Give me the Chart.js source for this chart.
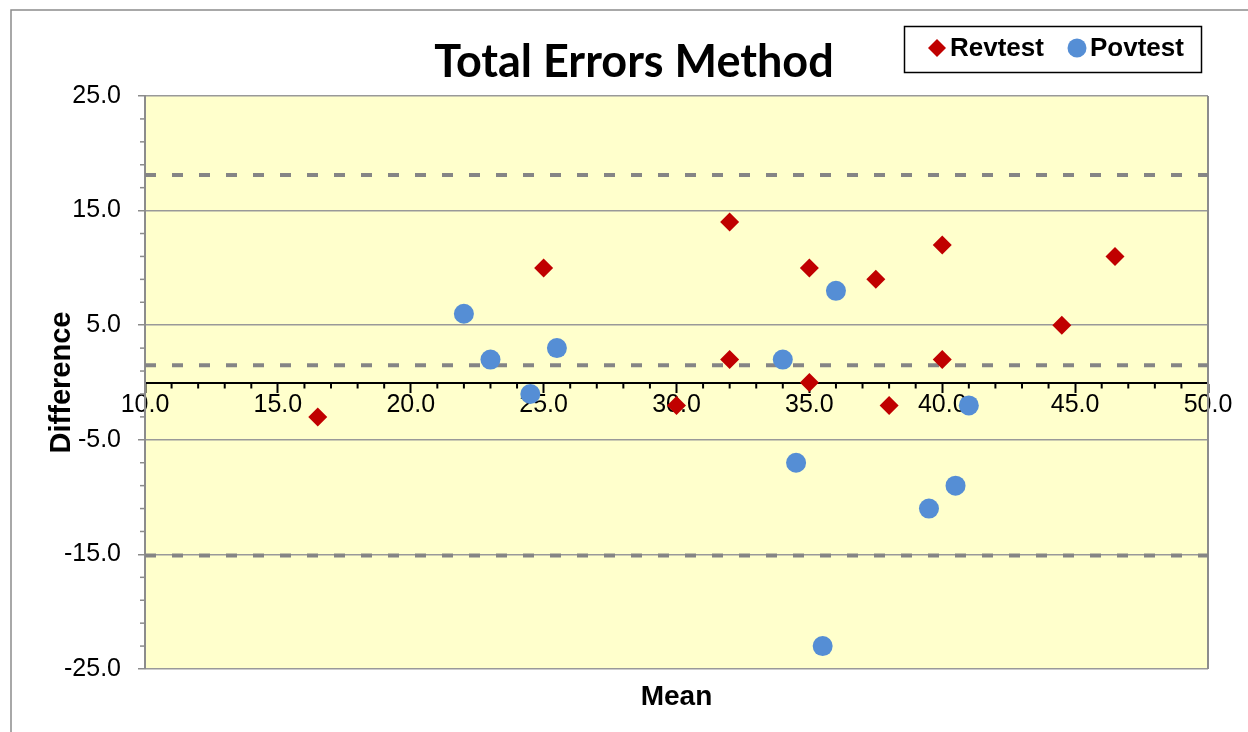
<!DOCTYPE html>
<html>
<head>
<meta charset="utf-8">
<title>Total Errors Method</title>
<script src="https://cdn.jsdelivr.net/npm/chart.js@4.4.0/dist/chart.umd.min.js"></script>
<style>
  html, body { margin: 0; padding: 0; background: #fff; }
</style>
</head>
<body>
<canvas id="my-chart" width="1248" height="732"></canvas>
<script>
'use strict';
// values
let revMean = [16.5, 25, 30, 32, 32, 35, 35, 37.5, 38, 40, 40, 44.5, 46.5]
let revDiff = [-3, 10, -2, 14, 2, 10, 0, 9, -2, 12, 2, 5, 11]
let povMean = [22, 23, 24.5, 25.5, 34, 34.5, 35.5, 36, 39.5, 40.5, 41]
let povDiff = [6, 2, -1, 3, 2, -7, -23, 8, -11, -9, -2]
// mean difference and the two limits (dashed lines)
let limitLines = [18.1, 1.5, -15.1]
// axis ticks: min, max, step
let xTickRange = [10, 50, 5]
let yTickRange = [-25, 25, 10]

let fontArial = "'Liberation Sans', Arial, sans-serif"

function toPoints(xs, ys) {
  let pts = []
  for (let i = 0; i < xs.length; i++) {
    pts.push({ x: xs[i], y: ys[i] })
  }
  return pts
}

// dashed lines go across the whole x range
let limitDatasets = limitLines.map(function (v) {
  return {
    label: 'limit',
    data: [{ x: xTickRange[0], y: v }, { x: xTickRange[1], y: v }],
    showLine: true,
    borderColor: '#858585',
    borderWidth: 4,
    borderDash: [11, 16],
    pointRadius: 0,
    order: 2
  }
})

// background, frame, minor ticks, legend box
const plotDecor = {
  id: 'plotDecor',
  beforeDraw(chart) {
    const ctx = chart.ctx
    const a = chart.chartArea
    ctx.save()
    ctx.strokeStyle = '#8c8c8c'
    ctx.lineWidth = 1.5
    ctx.strokeRect(11, 10, 1400, 900)
    ctx.fillStyle = '#FFFFCC'
    ctx.fillRect(a.left, a.top, a.right - a.left, a.bottom - a.top)
    ctx.restore()
  },
  beforeDatasetsDraw(chart) {
    const ctx = chart.ctx
    const a = chart.chartArea
    const xs = chart.scales.x
    const ys = chart.scales.y
    ctx.save()
    ctx.strokeStyle = '#8c8c8c'
    ctx.lineWidth = 2
    ctx.beginPath()
    ctx.moveTo(a.right, a.top)
    ctx.lineTo(a.right, a.bottom)
    ctx.stroke()
    // minor ticks on y, every 2
    ctx.lineWidth = 1.5
    for (let v = yTickRange[0]; v <= yTickRange[1]; v += 2) {
      if ((v - yTickRange[0]) % yTickRange[2] === 0) continue
      let py = ys.getPixelForValue(v)
      ctx.beginPath()
      ctx.moveTo(a.left - 5, py)
      ctx.lineTo(a.left, py)
      ctx.stroke()
    }
    // minor ticks on the zero line, every 1
    let py0 = ys.getPixelForValue(0)
    ctx.strokeStyle = '#000'
    ctx.lineWidth = 2
    for (let v = xTickRange[0]; v <= xTickRange[1]; v++) {
      if ((v - xTickRange[0]) % xTickRange[2] === 0) continue
      let px = xs.getPixelForValue(v)
      ctx.beginPath()
      ctx.moveTo(px, py0)
      ctx.lineTo(px, py0 + 6)
      ctx.stroke()
    }
    ctx.restore()
  },
  afterDraw(chart) {
    const ctx = chart.ctx
    ctx.save()
    ctx.fillStyle = '#fff'
    ctx.fillRect(904, 26, 297, 46)
    ctx.strokeStyle = '#000'
    ctx.lineWidth = 1.5
    ctx.strokeRect(904.5, 26.5, 297, 46)
    // diamond
    ctx.fillStyle = '#C00000'
    ctx.beginPath()
    ctx.moveTo(937, 39)
    ctx.lineTo(946, 48)
    ctx.lineTo(937, 57)
    ctx.lineTo(928, 48)
    ctx.closePath()
    ctx.fill()
    // circle
    ctx.fillStyle = '#558ED5'
    ctx.beginPath()
    ctx.arc(1077, 48, 9.5, 0, Math.PI * 2)
    ctx.fill()
    ctx.fillStyle = '#000'
    ctx.font = 'bold 26px ' + fontArial
    ctx.textBaseline = 'middle'
    ctx.fillText('Revtest', 950, 49)
    ctx.fillText('Povtest', 1090, 49)
    ctx.restore()
  }
}

const ctx = document.getElementById('my-chart').getContext('2d')
const myChart = new Chart(ctx, {
  type: 'scatter',
  data: {
    datasets: [
      {
        label: 'Revtest',
        data: toPoints(revMean, revDiff),
        pointStyle: 'rectRot',
        pointRadius: 9.5,
        pointBackgroundColor: '#C00000',
        pointBorderWidth: 0,
        order: 0
      },
      {
        label: 'Povtest',
        data: toPoints(povMean, povDiff),
        pointStyle: 'circle',
        pointRadius: 10,
        pointBackgroundColor: '#558ED5',
        pointBorderWidth: 0,
        order: 1
      }
    ].concat(limitDatasets)
  },
  options: {
    responsive: false,
    animation: false,
    events: [],
    layout: { padding: { left: 60, right: 40, top: 0, bottom: 0 } },
    plugins: {
      legend: { display: false },
      tooltip: { enabled: false },
      title: {
        display: true,
        text: 'Total Errors Method',
        color: '#000',
        font: { family: 'Lato', size: 45, weight: 'bold', lineHeight: 1.2 },
        padding: { top: 35, bottom: 7 }
      }
    },
    scales: {
      x: {
        type: 'linear',
        position: { y: 0 },
        min: xTickRange[0],
        max: xTickRange[1],
        ticks: {
          stepSize: xTickRange[2],
          color: '#000',
          padding: 1,
          font: { family: fontArial, size: 25, lineHeight: 1 },
          callback: function (v) { return Number(v).toFixed(1) }
        },
        grid: {
          drawOnChartArea: false,
          drawTicks: true,
          tickLength: 9,
          tickColor: '#000',
          tickWidth: 2
        },
        border: { color: '#000', width: 2 }
      },
      x2: {
        type: 'linear',
        position: 'bottom',
        min: xTickRange[0],
        max: xTickRange[1],
        ticks: { display: false },
        grid: { display: false, drawTicks: false },
        border: { display: false },
        title: {
          display: true,
          text: 'Mean',
          color: '#000',
          font: { family: fontArial, size: 28, weight: 'bold', lineHeight: 1.2 },
          padding: { top: 11.2, bottom: 18.2 }
        }
      },
      y: {
        type: 'linear',
        position: 'left',
        min: yTickRange[0],
        max: yTickRange[1],
        afterFit: function (scale) { scale.width = 85 },
        ticks: {
          stepSize: yTickRange[2],
          color: '#000',
          padding: 17,
          font: { family: fontArial, size: 25 },
          callback: function (v) { return Number(v).toFixed(1) }
        },
        grid: {
          color: '#999999',
          lineWidth: 1.5,
          tickColor: '#8c8c8c',
          tickLength: 7,
          tickWidth: 1.5
        },
        border: { color: '#8c8c8c', width: 2 },
        title: {
          display: true,
          text: 'Difference',
          color: '#000',
          font: { family: fontArial, size: 29, weight: 'bold', lineHeight: 1.2 },
          padding: { top: -15.9, bottom: 0 }
        }
      }
    }
  },
  plugins: [plotDecor]
})
</script>
</body>
</html>
